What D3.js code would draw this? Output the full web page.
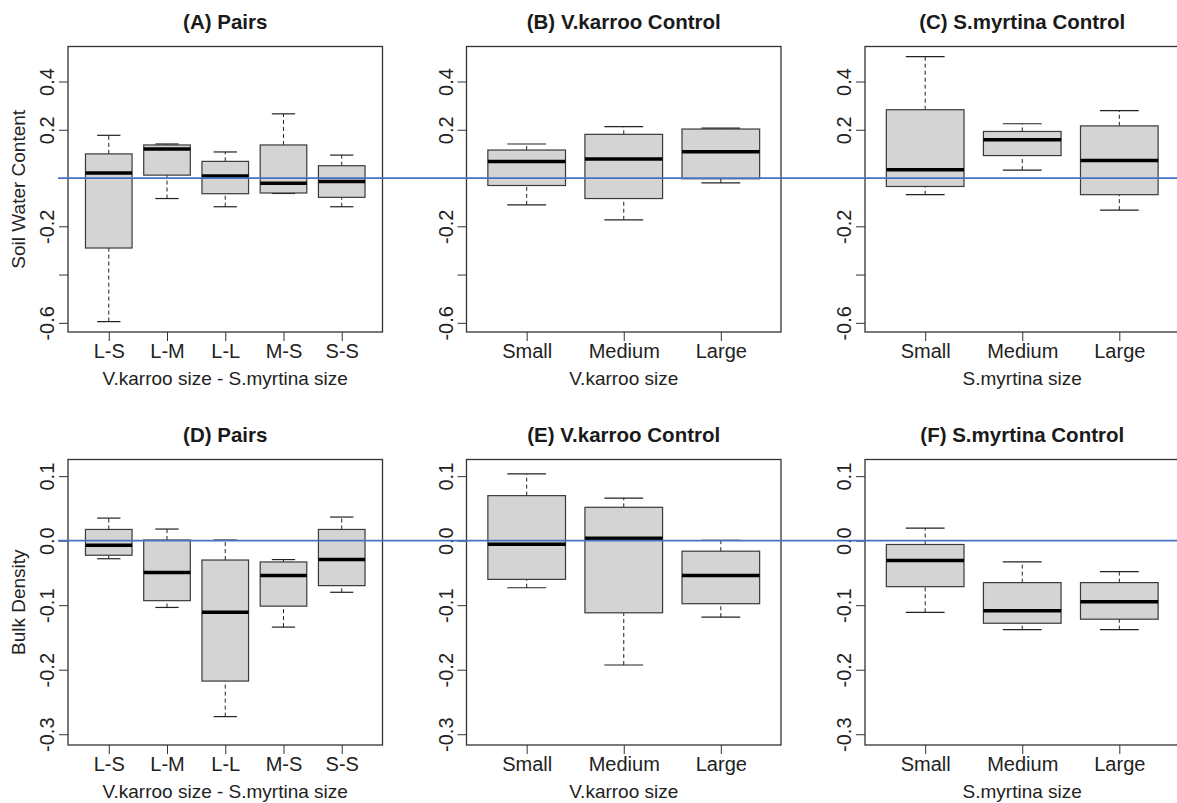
<!DOCTYPE html>
<html>
<head>
<meta charset="utf-8">
<script src="https://cdn.jsdelivr.net/npm/d3@7"></script>
<style>
  body { margin: 0; background: #fff; }
  svg { display: block; font-family: "Liberation Sans", Arial, sans-serif; }
</style>
</head>
<body>
<div id="chart"></div>
<script>
// categories
const pairCats = ["L-S", "L-M", "L-L", "M-S", "S-S"];
const sizeCats = ["Small", "Medium", "Large"];

// box stats per category: [lower whisker, Q1, median, Q3, upper whisker]
const swcPairs = [
    [-0.595, -0.290, 0.021, 0.100, 0.177],
    [-0.085, 0.012, 0.120, 0.137, 0.141],
    [-0.119, -0.065, 0.008, 0.069, 0.108],
    [-0.064, -0.062, -0.022, 0.137, 0.266],
    [-0.119, -0.080, -0.014, 0.051, 0.095]
];
const swcKarroo = [
    [-0.111, -0.031, 0.069, 0.116, 0.141],
    [-0.173, -0.085, 0.079, 0.181, 0.213],
    [-0.020, -0.003, 0.109, 0.203, 0.207]
];
const swcMyrtina = [
    [-0.069, -0.035, 0.034, 0.283, 0.503],
    [0.033, 0.093, 0.159, 0.193, 0.225],
    [-0.133, -0.069, 0.073, 0.216, 0.279]
];
const bdPairs = [
    [-0.028, -0.0226, -0.007, 0.0174, 0.035],
    [-0.1035, -0.093, -0.0495, 0.001, 0.018],
    [-0.2727, -0.2176, -0.111, -0.030, 0.001],
    [-0.134, -0.1015, -0.054, -0.033, -0.0293],
    [-0.080, -0.0697, -0.0293, 0.0174, 0.0366]
];
const bdKarroo = [
    [-0.073, -0.060, -0.0054, 0.0698, 0.1035],
    [-0.1927, -0.1118, 0.0039, 0.0517, 0.066],
    [-0.1186, -0.0977, -0.054, -0.0163, 0.0003]
];
const bdMyrtina = [
    [-0.111, -0.0713, -0.0308, -0.0059, 0.0195],
    [-0.138, -0.128, -0.1086, -0.065, -0.033],
    [-0.138, -0.1217, -0.0946, -0.065, -0.048]
];

// y axes
const swcDomain = [-0.638, 0.545];
const swcTicks = [-0.6, -0.4, -0.2, 0, 0.2, 0.4];
const swcLabelled = [-0.6, -0.2, 0.2, 0.4];
const bdDomain = [-0.3167, 0.1258];
const bdTicks = [-0.3, -0.2, -0.1, 0, 0.1];
const bdLabelled = [-0.3, -0.2, -0.1, 0, 0.1];

const width = 1177, height = 803;
const colLeft = [68, 466.5, 865], plotW = 314.5;
const rowTop = [46.5, 459.5], plotH = 285.5;

const svg = d3.select("#chart")
    .append("svg")
    .attr("width", width)
    .attr("height", height);

svg.append("rect").attr("width", width).attr("height", height).attr("fill", "#fff");

const rows = [
    { domain: swcDomain, ticks: swcTicks, labelled: swcLabelled, ylab: "Soil Water Content",
      panels: [
        { title: "(A) Pairs", cats: pairCats, stats: swcPairs, xlab: "V.karroo size - S.myrtina size" },
        { title: "(B) V.karroo Control", cats: sizeCats, stats: swcKarroo, xlab: "V.karroo size" },
        { title: "(C) S.myrtina Control", cats: sizeCats, stats: swcMyrtina, xlab: "S.myrtina size" }
      ] },
    { domain: bdDomain, ticks: bdTicks, labelled: bdLabelled, ylab: "Bulk Density",
      panels: [
        { title: "(D) Pairs", cats: pairCats, stats: bdPairs, xlab: "V.karroo size - S.myrtina size" },
        { title: "(E) V.karroo Control", cats: sizeCats, stats: bdKarroo, xlab: "V.karroo size" },
        { title: "(F) S.myrtina Control", cats: sizeCats, stats: bdMyrtina, xlab: "S.myrtina size" }
      ] }
];

// plain hyphen for negatives, like base R
let fmt = d => d.toFixed(1);

const yScales = [];

rows.forEach((row, ri) => {
    let y = d3.scaleLinear().domain(row.domain).range([plotH, 0]);
    yScales.push(y);

    row.panels.forEach((p, ci) => {
        let n = p.cats.length;
        // R-style boxplot x range: 0.5..n+0.5 padded by 4%
        let x = d3.scaleLinear()
            .domain([0.5 - 0.04 * n, n + 0.5 + 0.04 * n])
            .range([0, plotW]);
        let boxW = x(1.4) - x(0.6);

        let g = svg.append("g")
            .attr("transform", `translate(${colLeft[ci]}, ${rowTop[ri]})`);

        // title
        g.append("text")
            .attr("x", plotW / 2)
            .attr("y", -18)
            .attr("text-anchor", "middle")
            .style("font-size", "20.5px")
            .style("font-weight", "bold")
            .attr("fill", "#1a1a1a")
            .text(p.title);

        // y axis
        let yAxis = g.append("g")
            .call(d3.axisLeft(y)
                .tickValues(row.ticks)
                .tickSize(9)
                .tickSizeOuter(0)
                .tickFormat(d => row.labelled.some(v => Math.abs(v - d) < 1e-9) ? fmt(d) : ""));
        yAxis.select(".domain").remove();
        yAxis.selectAll("line").attr("stroke", "#333");
        yAxis.selectAll("text")
            .attr("x", null)
            .attr("dy", null)
            .attr("transform", "translate(-14,0) rotate(-90)")
            .attr("text-anchor", "middle")
            .attr("fill", "#222")
            .style("font-size", "20px")
            .style("font-family", "Liberation Sans, Arial, sans-serif");

        // x axis
        let xAxis = g.append("g")
            .attr("transform", `translate(0, ${plotH})`)
            .call(d3.axisBottom(x)
                .tickValues(d3.range(1, n + 1))
                .tickSize(9)
                .tickSizeOuter(0)
                .tickFormat(i => p.cats[i - 1]));
        xAxis.select(".domain").remove();
        xAxis.selectAll("line").attr("stroke", "#333");
        xAxis.selectAll("text")
            .attr("y", 26)
            .attr("dy", null)
            .attr("fill", "#222")
            .style("font-size", "20px")
            .style("font-family", "Liberation Sans, Arial, sans-serif");

        // x label
        g.append("text")
            .attr("x", plotW / 2)
            .attr("y", plotH + 53)
            .attr("text-anchor", "middle")
            .style("font-size", "19px")
            .attr("fill", "#222")
            .text(p.xlab);

        // y label on first column only
        if (ci === 0) {
            g.append("text")
                .attr("transform", `translate(-43, ${plotH / 2}) rotate(-90)`)
                .attr("text-anchor", "middle")
                .style("font-size", "19px")
                .attr("fill", "#222")
                .text(row.ylab);
        }

        // boxes
        let boxes = g.selectAll(".box")
            .data(p.stats)
            .enter()
            .append("g")
            .attr("class", "box");

        // dashed whiskers
        boxes.append("line")
            .attr("x1", (d, i) => x(i + 1)).attr("x2", (d, i) => x(i + 1))
            .attr("y1", d => y(d[0])).attr("y2", d => y(d[1]))
            .attr("stroke", "#222").attr("stroke-dasharray", "4,3");
        boxes.append("line")
            .attr("x1", (d, i) => x(i + 1)).attr("x2", (d, i) => x(i + 1))
            .attr("y1", d => y(d[3])).attr("y2", d => y(d[4]))
            .attr("stroke", "#222").attr("stroke-dasharray", "4,3");
        // staples
        [0, 4].forEach(k => {
            boxes.append("line")
                .attr("x1", (d, i) => x(i + 1) - boxW / 4)
                .attr("x2", (d, i) => x(i + 1) + boxW / 4)
                .attr("y1", d => y(d[k])).attr("y2", d => y(d[k]))
                .attr("stroke", "#222").attr("stroke-width", 1.2);
        });
        // box
        boxes.append("rect")
            .attr("x", (d, i) => x(i + 1) - boxW / 2)
            .attr("width", boxW)
            .attr("y", d => y(d[3]))
            .attr("height", d => y(d[1]) - y(d[3]))
            .attr("fill", "#d4d4d4")
            .attr("stroke", "#3a3a3a")
            .attr("stroke-width", 1.2);
        // median
        boxes.append("line")
            .attr("x1", (d, i) => x(i + 1) - boxW / 2)
            .attr("x2", (d, i) => x(i + 1) + boxW / 2)
            .attr("y1", d => y(d[2])).attr("y2", d => y(d[2]))
            .attr("stroke", "#000").attr("stroke-width", 3.5);

        // frame
        g.append("rect")
            .attr("width", plotW)
            .attr("height", plotH)
            .attr("fill", "none")
            .attr("stroke", "#333")
            .attr("stroke-width", 1.3);
    });
});

// blue reference line at zero across each row
yScales.forEach((y, ri) => {
    svg.append("line")
        .attr("x1", 58)
        .attr("x2", width)
        .attr("y1", rowTop[ri] + y(0))
        .attr("y2", rowTop[ri] + y(0))
        .attr("stroke", "#4472c4")
        .attr("stroke-width", 1.8);
});
</script>
</body>
</html>
